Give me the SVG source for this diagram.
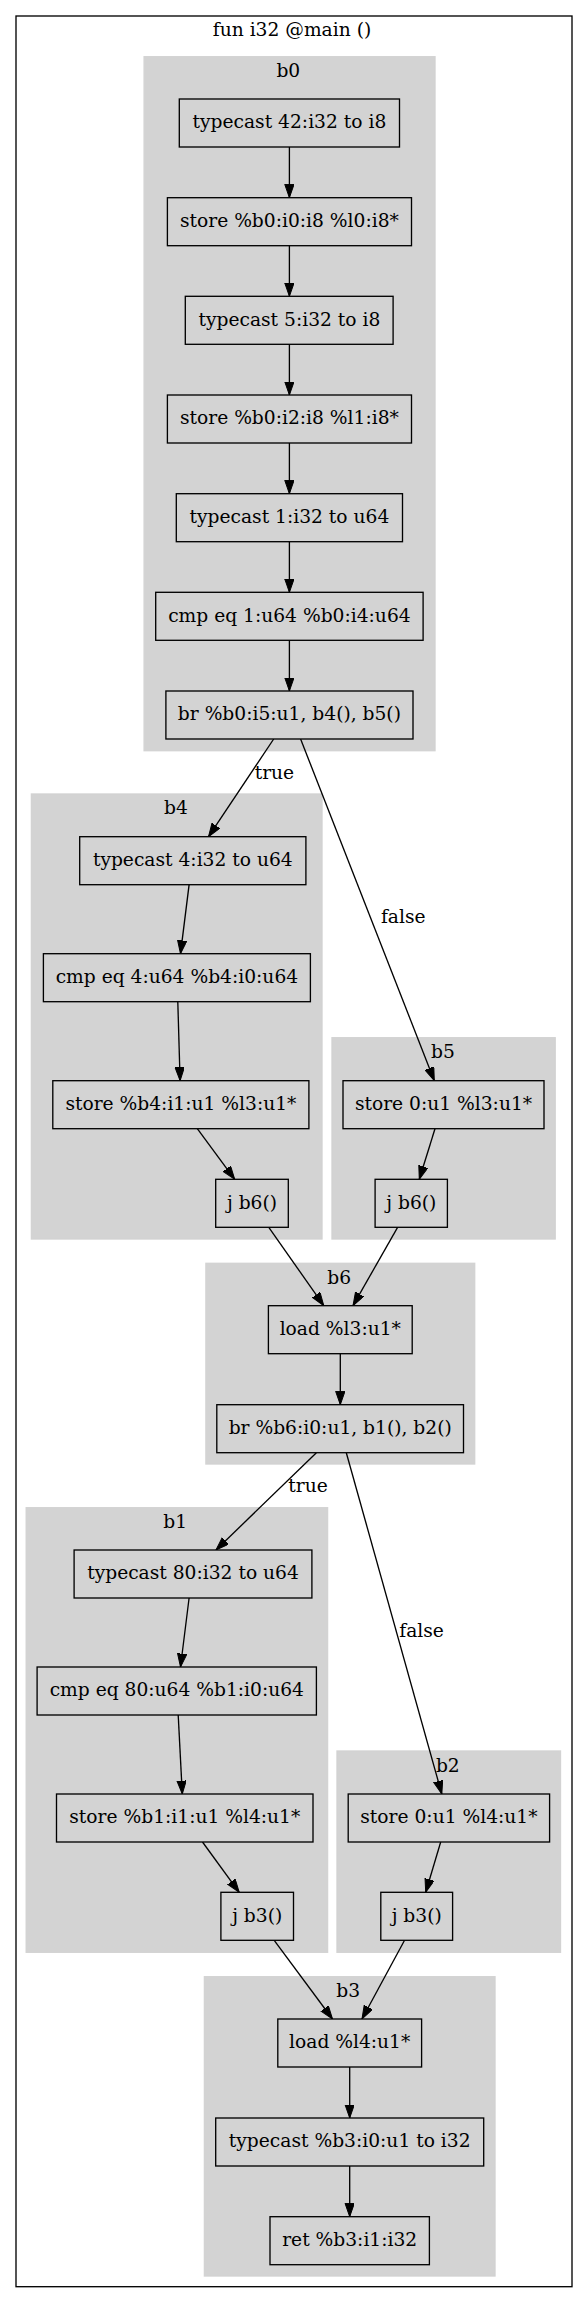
<svg xmlns="http://www.w3.org/2000/svg" width="584" height="2303" viewBox="0 0 584 2303">
<style>
.bg{fill:#fff}
.outer{fill:none;stroke:#000;stroke-width:1.33}
.cl{fill:#d3d3d3;stroke:#d3d3d3;stroke-width:1.33}
.nd{fill:#d3d3d3;stroke:#000;stroke-width:1.33}
text{font-family:"DejaVu Serif","Liberation Serif",serif;font-size:18.67px;fill:#000;text-anchor:middle}
.e{stroke:#000;stroke-width:1.33;fill:none;marker-end:url(#ah)}
</style>
<defs>
<marker id="ah" markerUnits="userSpaceOnUse" markerWidth="14" markerHeight="10" refX="13.33" refY="4.67" orient="auto" viewBox="0 0 14 10">
<path d="M0,0 L13.33,4.67 L0,9.33 z" fill="#000" stroke="#000" stroke-width="1"/>
</marker>
</defs>
<rect class="bg" x="0" y="0" width="584" height="2303"/>
<g id="graph">
<rect class="outer" x="16" y="16" width="556" height="2270.7"/>
<text x="292" y="36">fun i32 @main ()</text>
</g>
<g id="clusters">
<g id="cluster_b0"><rect class="cl" x="144.1" y="56.7" width="290.9" height="694"/><text x="288.3" y="77.3">b0</text></g>
<g id="cluster_b4"><rect class="cl" x="31.4" y="794" width="290.6" height="445"/><text x="176" y="814.3">b4</text></g>
<g id="cluster_b5"><rect class="cl" x="332" y="1037.7" width="223.2" height="201.3"/><text x="443" y="1058">b5</text></g>
<g id="cluster_b6"><rect class="cl" x="205.9" y="1263.3" width="268.8" height="200.7"/><text x="339.2" y="1283.7">b6</text></g>
<g id="cluster_b1"><rect class="cl" x="26.2" y="1507.7" width="301.4" height="444.6"/><text x="175.2" y="1528">b1</text></g>
<g id="cluster_b2"><rect class="cl" x="337" y="1751" width="223.5" height="201.3"/><text x="447.8" y="1771.7">b2</text></g>
<g id="cluster_b3"><rect class="cl" x="204.4" y="1976.7" width="290.6" height="299.3"/><text x="348.2" y="1997.3">b3</text></g>
</g>
<g id="connectors">
<line class="e" x1="289.4" y1="147" x2="289.4" y2="197.7"/>
<line class="e" x1="289.4" y1="245.7" x2="289.4" y2="296.3"/>
<line class="e" x1="289.4" y1="344.3" x2="289.4" y2="395"/>
<line class="e" x1="289.4" y1="443" x2="289.4" y2="493.7"/>
<line class="e" x1="289.4" y1="541.7" x2="289.4" y2="592.3"/>
<line class="e" x1="289.4" y1="640.3" x2="289.4" y2="691"/>
<line class="e" x1="273.7" y1="739" x2="208.5" y2="836.7"/>
<text x="274.4" y="779">true</text>
<line class="e" x1="300.6" y1="739" x2="434.3" y2="1080.7"/>
<text x="403.2" y="923.3">false</text>
<line class="e" x1="189.1" y1="884.7" x2="180.5" y2="953.7"/>
<line class="e" x1="177.8" y1="1001.7" x2="180.1" y2="1080.7"/>
<line class="e" x1="197.3" y1="1128.7" x2="234.7" y2="1179.3"/>
<line class="e" x1="435" y1="1128.7" x2="419.3" y2="1179.3"/>
<line class="e" x1="268.8" y1="1227.3" x2="323.8" y2="1305.7"/>
<line class="e" x1="397.6" y1="1227.3" x2="353" y2="1305.7"/>
<line class="e" x1="340.3" y1="1353.7" x2="340.3" y2="1404.7"/>
<line class="e" x1="316.4" y1="1452.7" x2="216" y2="1550"/>
<text x="308" y="1491.7">true</text>
<line class="e" x1="346.3" y1="1452.7" x2="441.8" y2="1794"/>
<text x="421.6" y="1637.3">false</text>
<line class="e" x1="189.1" y1="1598" x2="180.5" y2="1667"/>
<line class="e" x1="178.2" y1="1715" x2="182.3" y2="1794"/>
<line class="e" x1="202.5" y1="1842" x2="239.2" y2="1892.3"/>
<line class="e" x1="440.7" y1="1842" x2="425.7" y2="1892.3"/>
<line class="e" x1="274.4" y1="1940.7" x2="332.5" y2="2019"/>
<line class="e" x1="404.3" y1="1940.7" x2="362" y2="2019"/>
<line class="e" x1="349.7" y1="2067" x2="349.7" y2="2118"/>
<line class="e" x1="349.7" y1="2166" x2="349.7" y2="2216.7"/>
</g>
<g id="b0_i0"><rect class="nd" x="179.3" y="99" width="220.2" height="48"/><text x="289.4" y="128.3">typecast 42:i32 to i8</text></g>
<g id="b0_i1"><rect class="nd" x="167.4" y="197.7" width="244.1" height="48"/><text x="289.4" y="227">store %b0:i0:i8 %l0:i8*</text></g>
<g id="b0_i2"><rect class="nd" x="185.3" y="296.3" width="207.8" height="48"/><text x="289.4" y="325.6">typecast 5:i32 to i8</text></g>
<g id="b0_i3"><rect class="nd" x="167.4" y="395" width="244.1" height="48"/><text x="289.4" y="424.3">store %b0:i2:i8 %l1:i8*</text></g>
<g id="b0_i4"><rect class="nd" x="176.3" y="493.7" width="226.2" height="48"/><text x="289.4" y="523">typecast 1:i32 to u64</text></g>
<g id="b0_i5"><rect class="nd" x="155.7" y="592.3" width="267.4" height="48"/><text x="289.4" y="621.6">cmp eq 1:u64 %b0:i4:u64</text></g>
<g id="b0_i6"><rect class="nd" x="165.9" y="691" width="247.1" height="48"/><text x="289.4" y="720.3">br %b0:i5:u1, b4(), b5()</text></g>
<g id="b4_i0"><rect class="nd" x="79.7" y="836.7" width="226.2" height="48"/><text x="192.8" y="866">typecast 4:i32 to u64</text></g>
<g id="b4_i1"><rect class="nd" x="43.4" y="953.7" width="267" height="48"/><text x="176.9" y="983">cmp eq 4:u64 %b4:i0:u64</text></g>
<g id="b4_i2"><rect class="nd" x="52.8" y="1080.7" width="256.1" height="48"/><text x="180.9" y="1110">store %b4:i1:u1 %l3:u1*</text></g>
<g id="b4_i3"><rect class="nd" x="215.7" y="1179.3" width="72.6" height="48"/><text x="252" y="1208.6">j b6()</text></g>
<g id="b5_i0"><rect class="nd" x="343" y="1080.7" width="201" height="48"/><text x="443.5" y="1110">store 0:u1 %l3:u1*</text></g>
<g id="b5_i1"><rect class="nd" x="375.1" y="1179.3" width="72.3" height="48"/><text x="411.3" y="1208.6">j b6()</text></g>
<g id="b6_i0"><rect class="nd" x="268.4" y="1305.7" width="143.8" height="48"/><text x="340.3" y="1335">load %l3:u1*</text></g>
<g id="b6_i1"><rect class="nd" x="216.8" y="1404.7" width="246.7" height="48"/><text x="340.2" y="1434">br %b6:i0:u1, b1(), b2()</text></g>
<g id="b1_i0"><rect class="nd" x="74.1" y="1550" width="237.8" height="48"/><text x="193" y="1579.3">typecast 80:i32 to u64</text></g>
<g id="b1_i1"><rect class="nd" x="37.1" y="1667" width="279.3" height="48"/><text x="176.8" y="1696.3">cmp eq 80:u64 %b1:i0:u64</text></g>
<g id="b1_i2"><rect class="nd" x="56.5" y="1794" width="256.5" height="48"/><text x="184.8" y="1823.3">store %b1:i1:u1 %l4:u1*</text></g>
<g id="b1_i3"><rect class="nd" x="220.9" y="1892.3" width="72.6" height="48"/><text x="257.2" y="1921.6">j b3()</text></g>
<g id="b2_i0"><rect class="nd" x="348.2" y="1794" width="201.4" height="48"/><text x="448.9" y="1823.3">store 0:u1 %l4:u1*</text></g>
<g id="b2_i1"><rect class="nd" x="380.8" y="1892.3" width="71.8" height="48"/><text x="416.7" y="1921.6">j b3()</text></g>
<g id="b3_i0"><rect class="nd" x="277.8" y="2019" width="143.8" height="48"/><text x="349.7" y="2048.3">load %l4:u1*</text></g>
<g id="b3_i1"><rect class="nd" x="215.7" y="2118" width="268" height="48"/><text x="349.7" y="2147.3">typecast %b3:i0:u1 to i32</text></g>
<g id="b3_i2"><rect class="nd" x="270" y="2216.7" width="159.4" height="48"/><text x="349.7" y="2246">ret %b3:i1:i32</text></g>
</svg>
